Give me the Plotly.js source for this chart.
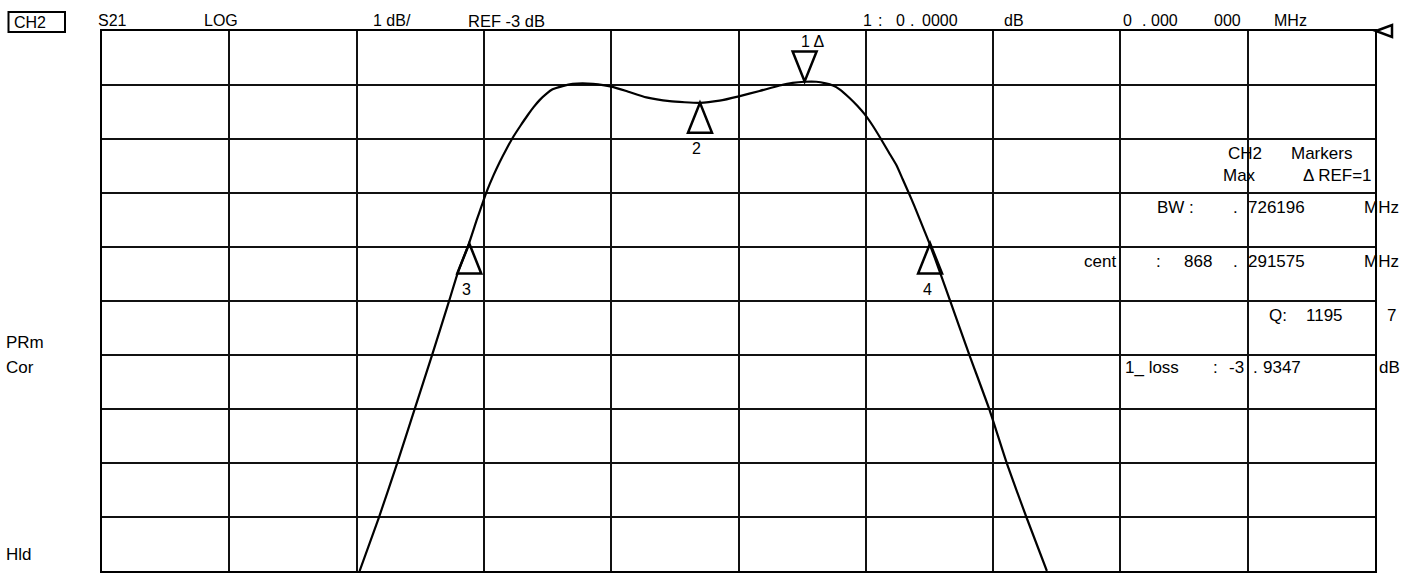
<!DOCTYPE html>
<html>
<head>
<meta charset="utf-8">
<script src="https://cdn.plot.ly/plotly-3.0.1.min.js"></script>
<style>html,body{margin:0;padding:0;background:#fff;}#chart{width:1421px;height:574px;}</style>
</head>
<body>
<div id="chart"></div>
<script>
// ---- Data ----
const freqMHz = [867.7547, 867.7850, 867.8133, 867.8407, 867.8683, 867.8961, 867.9092, 867.9264,
  867.9390, 867.9464, 867.9542, 867.9652, 867.9747, 867.9857, 867.9967, 868.0077, 868.0187,
  868.0281, 868.0375, 868.0485, 868.0579, 868.0737, 868.0894, 868.1051, 868.1212, 868.1502,
  868.1737, 868.2052, 868.2418, 868.2889, 868.3203, 868.3506, 868.3832, 868.4146, 868.4350,
  868.4539, 868.4722, 868.4869, 868.4983, 868.5088, 868.5245, 868.5363, 868.5481, 868.5607,
  868.5733, 868.5858, 868.5984, 868.6078, 868.6172, 868.6259, 868.6345, 868.6424, 868.6502,
  868.6660, 868.6817, 868.7131, 868.7445, 868.7717, 868.8022, 868.8345];
const s21dB = [-13.00, -12.01, -11.02, -10.02, -9.01, -7.97, -7.47, -6.94,
  -6.49, -6.24, -5.98, -5.67, -5.43, -5.18, -4.95, -4.75, -4.56,
  -4.41, -4.28, -4.16, -4.08, -4.02, -3.98, -3.97, -3.98, -4.03,
  -4.11, -4.23, -4.30, -4.33, -4.29, -4.21, -4.11, -4.01, -3.96,
  -3.94, -3.94, -3.97, -4.01, -4.08, -4.24, -4.38, -4.54, -4.75,
  -4.99, -5.24, -5.49, -5.74, -5.99, -6.23, -6.48, -6.71, -6.94,
  -7.45, -7.97, -9.01, -10.02, -11.01, -12.00, -13.00];

const markerIds = ['1', '2', '3', '4'];
const markerFreqMHz = [868.4539, 868.2895, 867.9270, 868.6510];
const markerDb = [-3.9347, -4.33, -6.9347, -6.9347];
const markerPointsDown = [true, false, false, false];

const startMHz = 867.35, stopMHz = 869.35, mhzPerDiv = 0.2;
const refDb = -3, dbPerDiv = 1, divisions = 10;

// ---- Layout geometry (pixels) ----
const W = 1421, H = 574;
const L = 102, R = 46, T = 31, B = 3;
const PW = W - L - R, PH = H - T - B;
const px = x => (x - L) / PW;
const py = y => (H - B - y) / PH;

const FONT = 'Liberation Sans, Arial, Helvetica, sans-serif';
const annotations = [];
function txt(text, left, cy, size) {
  annotations.push({
    text: text, xref: 'paper', yref: 'paper', x: px(left), y: py(cy),
    xanchor: 'left', yanchor: 'middle', showarrow: false, borderpad: 0,
    font: {family: FONT, size: size || 16, color: '#000'}
  });
}

// header line
txt('CH2', 13, 22, 16);
txt('S21', 97, 21);
txt('LOG', 203, 21);
txt('1 dB/', 372, 21);
txt('REF -3 dB', 467, 21, 16.5);
txt('1', 862, 21); txt(':', 877, 21); txt('0', 895, 21); txt('.', 909, 21); txt('0000', 921, 21);
txt('dB', 1003, 21);
txt('0', 1122, 21); txt('.', 1141, 21); txt('000', 1150, 21);
txt('000', 1213, 21);
txt('MHz', 1273, 21);

// marker table
const S = 17;
txt('CH2', 1227, 153, S); txt('Markers', 1290, 153, S);
txt('Max', 1222, 176, S); txt('Δ REF=1', 1302, 176, S);
txt('BW :', 1156, 207, S); txt('.', 1232, 207, S); txt('726196', 1247, 207, S); txt('MHz', 1363, 207, S);
txt('cent', 1083, 261, S); txt(':', 1155, 261, S); txt('868', 1183, 261, S); txt('.', 1232, 261, S);
txt('291575', 1247, 261, S); txt('MHz', 1363, 261, S);
txt('Q:', 1268, 315, S); txt('1195', 1305, 315, S); txt('7', 1386, 315, S);
txt('1_ loss', 1124, 368, S); txt(':', 1212, 368, S); txt('-3', 1228, 368, S); txt('.', 1252, 368, S);
txt('9347', 1262, 368, S); txt('dB', 1378, 368, S);

// left status
txt('PRm', 5, 342, S);
txt('Cor', 5, 367, S);
txt('Hld', 5, 554, S);

// marker labels
markerIds.forEach((id, i) => {
  const down = markerPointsDown[i];
  annotations.push({
    text: down ? id + ' Δ' : id, xref: 'x', yref: 'y', x: markerFreqMHz[i], y: markerDb[i],
    xshift: down ? 8 : -3, yshift: down ? 40 : -46, showarrow: false, borderpad: 0,
    font: {family: FONT, size: 16, color: '#000'}
  });
});

// marker triangles (pixel-sized, anchored on marker data)
const shapes = markerIds.map((id, i) => ({
  type: 'path', xref: 'x', yref: 'y', xsizemode: 'pixel', ysizemode: 'pixel',
  xanchor: markerFreqMHz[i], yanchor: markerDb[i],
  path: markerPointsDown[i] ? 'M0,0 L-12,30 L12,30 Z' : 'M0,0 L-12,-30 L12,-30 Z',
  line: {color: '#000', width: 2.5}, fillcolor: 'rgba(0,0,0,0)'
}));
// reference level indicator at right edge of the graticule (reference = top line)
shapes.push({
  type: 'path', xref: 'paper', yref: 'paper', xsizemode: 'pixel', ysizemode: 'pixel',
  xanchor: 1, yanchor: 1, path: 'M1,0 L17,6 L17,-6 Z', layer: 'above',
  line: {color: '#000', width: 2.5}, fillcolor: 'rgba(0,0,0,0)'
});
// CH2 box
shapes.push({
  type: 'rect', xref: 'paper', yref: 'paper', x0: px(8.5), x1: px(65), y0: py(32), y1: py(12),
  line: {color: '#000', width: 2}
});

const trace = {
  x: freqMHz, y: s21dB, type: 'scatter', mode: 'lines', cliponaxis: true,
  line: {color: '#000', width: 2.2, shape: 'spline', smoothing: 0.5},
  hoverinfo: 'skip'
};

const axisCommon = {
  showticklabels: false, ticks: '', zeroline: false, showgrid: true,
  gridcolor: '#111', gridwidth: 2, showline: true, mirror: true,
  linecolor: '#000', linewidth: 2, fixedrange: true
};

const layout = {
  width: W, height: H,
  margin: {l: L, r: R, t: T, b: B, pad: 0},
  paper_bgcolor: '#fff', plot_bgcolor: '#fff',
  showlegend: false,
  font: {family: FONT, color: '#000'},
  xaxis: Object.assign({}, axisCommon, {range: [startMHz, stopMHz], tick0: startMHz, dtick: mhzPerDiv}),
  yaxis: Object.assign({}, axisCommon, {range: [refDb - divisions * dbPerDiv, refDb], tick0: refDb, dtick: dbPerDiv}),
  annotations: annotations,
  shapes: shapes
};

Plotly.newPlot('chart', [trace], layout, {staticPlot: true, displayModeBar: false});
</script>
</body>
</html>
